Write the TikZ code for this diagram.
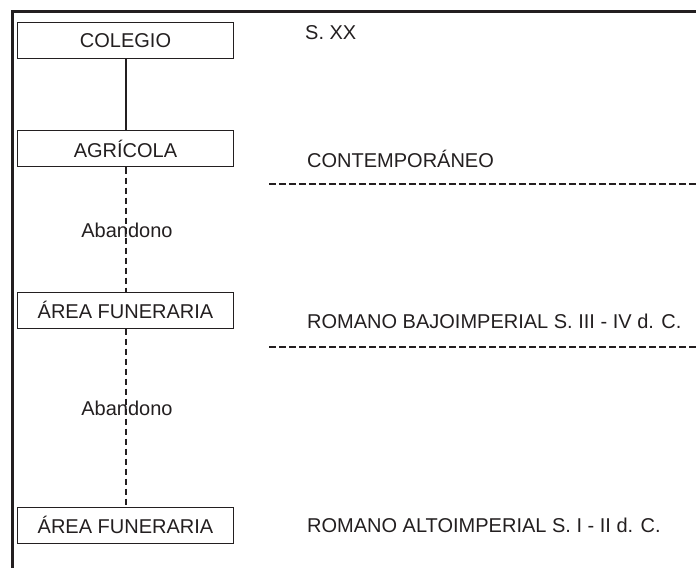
\documentclass[tikz,border=0pt]{standalone}
\usepackage{fontspec}
\setmainfont{Liberation Sans}
\definecolor{ink}{HTML}{231F20}
\begin{document}
\begin{tikzpicture}[x=1bp,y=-1bp,
  every node/.style={font=\fontsize{20bp}{24bp}\selectfont, text=ink},
  stagebox/.style={draw=ink, line width=1bp, minimum width=215bp, minimum height=36bp, inner sep=0pt, anchor=center},
  label/.style={anchor=base west, inner sep=0pt},
  gaplabel/.style={anchor=base, inner sep=0pt},
  solidlink/.style={draw=ink, line width=2bp},
  dashlink/.style={draw=ink, line width=2bp, dash pattern=on 6.5bp off 3.5bp},
  divider/.style={draw=ink, line width=2bp, dash pattern=on 6.5bp off 3.5bp},
  frame/.style={draw=ink, line width=3bp}
]
\useasboundingbox (0,0) rectangle (696,568);
% frame (top and left edges visible)
\coordinate (ftl) at (12,12);
\coordinate (ftr) at (700,12);
\coordinate (fbl) at (12,572);
\draw[frame] (ftr) -- (ftl) -- (fbl);

% stage boxes
\node[stagebox] (colegio) at (125.5,41) {COLEGIO};
\node[stagebox] (agricola) at (125.5,149) {AGRÍCOLA};
\node[stagebox] (area1) at (125.5,310) {ÁREA FUNERARIA};
\node[stagebox] (area2) at (125.5,525) {ÁREA FUNERARIA};

% connectors
\draw[solidlink] (colegio.south) -- (agricola.north);
\draw[dashlink] (agricola.south) -- (area1.north);
\draw[dashlink] (area1.south) -- (area2.north);

% gap labels
\node[gaplabel] (ab1) at (127,237) {Abandono};
\node[gaplabel] (ab2) at (127,415) {Abandono};

% period labels
\node[label] (sxx) at (305,40) {S. XX};
\node[label] (cont) at (307,168) {CONTEMPORÁNEO};
\node[label] (bajo) at (307,328) {ROMANO BAJOIMPERIAL S. III - IV d. C.};
\node[label] (alto) at (307,532) {ROMANO ALTOIMPERIAL S. I - II d. C.};

% dividers
\coordinate (d1a) at (269,184);
\coordinate (d1b) at (697,184);
\coordinate (d2a) at (269,347);
\coordinate (d2b) at (697,347);
\draw[divider] (d1a) -- (d1b);
\draw[divider] (d2a) -- (d2b);
\end{tikzpicture}
\end{document}
